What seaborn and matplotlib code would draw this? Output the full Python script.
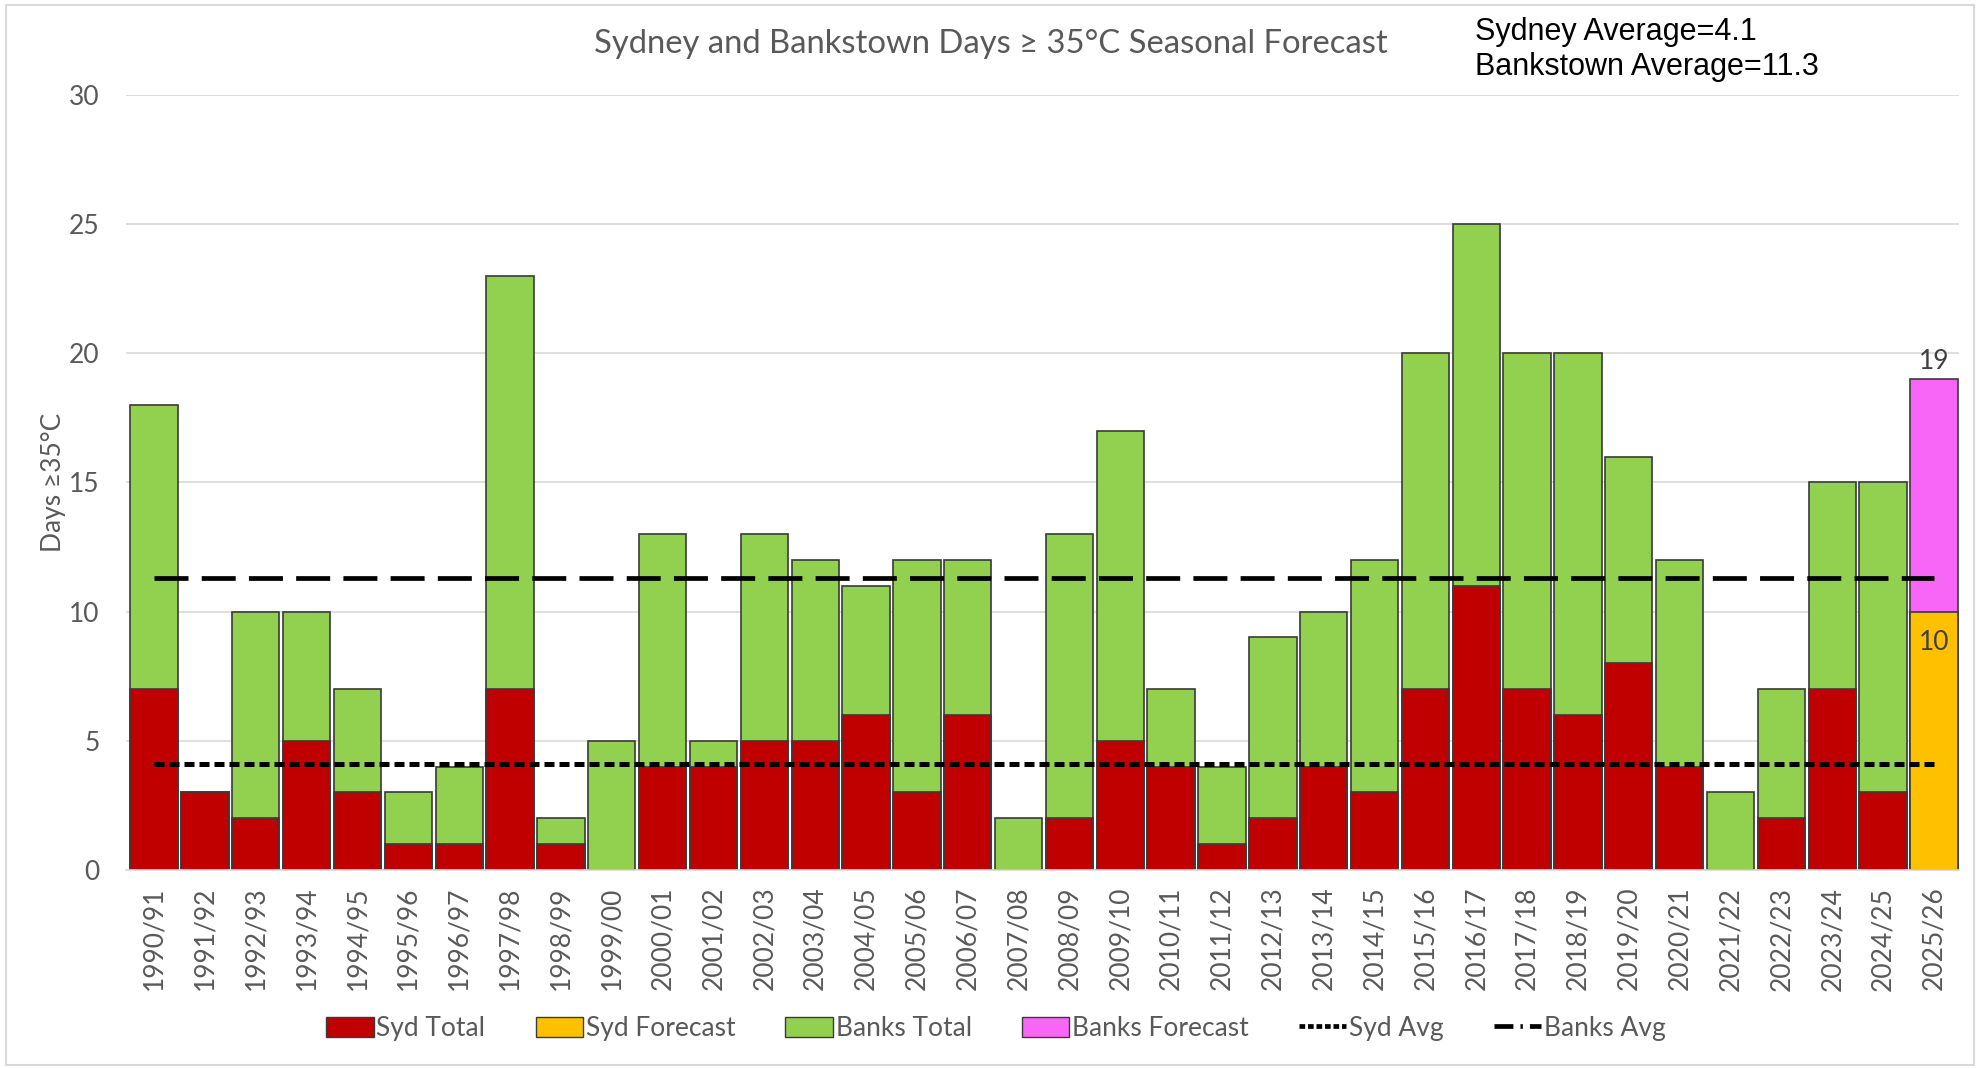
import numpy as np
import pandas as pd
import matplotlib
matplotlib.use("Agg")
import matplotlib.pyplot as plt
from matplotlib.patches import Patch, Rectangle
from matplotlib.lines import Line2D
import seaborn as sns

# Seasons and days >= 35°C
seasons = ["1990/91", "1991/92", "1992/93", "1993/94", "1994/95", "1995/96",
           "1996/97", "1997/98", "1998/99", "1999/00", "2000/01", "2001/02",
           "2002/03", "2003/04", "2004/05", "2005/06", "2006/07", "2007/08",
           "2008/09", "2009/10", "2010/11", "2011/12", "2012/13", "2013/14",
           "2014/15", "2015/16", "2016/17", "2017/18", "2018/19", "2019/20",
           "2020/21", "2021/22", "2022/23", "2023/24", "2024/25", "2025/26"]
syd_total = [7, 3, 2, 5, 3, 1, 1, 7, 1, 0, 4, 4, 5, 5, 6, 3, 6, 0, 2, 5, 4, 1,
             2, 4, 3, 7, 11, 7, 6, 8, 4, 0, 2, 7, 3, np.nan]
banks_total = [18, 3, 10, 10, 7, 3, 4, 23, 2, 5, 13, 5, 13, 12, 11, 12, 12, 2,
               13, 17, 7, 4, 9, 10, 12, 20, 25, 20, 20, 16, 12, 3, 7, 15, 15,
               np.nan]
syd_forecast = [np.nan] * 35 + [10]
banks_forecast = [np.nan] * 35 + [19]
syd_avg = 4.1
banks_avg = 11.3

df = pd.DataFrame({"season": seasons, "syd_total": syd_total,
                   "banks_total": banks_total, "syd_forecast": syd_forecast,
                   "banks_forecast": banks_forecast})

sns.set_style("white")
plt.rcParams["font.family"] = ["Lato", "DejaVu Sans"]

GREY_TXT = "#595959"
EDGE = "#3a3a3a"

fig = plt.figure(figsize=(19.82, 10.68), dpi=100)
ax = fig.add_axes([0.0636, 0.1854, 0.925, 0.7257])

bar_kw = dict(order=seasons, width=0.93, saturation=1, errorbar=None,
              edgecolor=EDGE, linewidth=1.2, ax=ax)
sns.barplot(data=df, x="season", y="banks_total", color="#92D050", **bar_kw)
sns.barplot(data=df, x="season", y="banks_forecast", color="#F766F7", **bar_kw)
sns.barplot(data=df, x="season", y="syd_total", color="#C00000", **bar_kw)
sns.barplot(data=df, x="season", y="syd_forecast", color="#FFC000", **bar_kw)

# Average lines spanning first to last season
n = len(seasons)
ax.plot([0, n - 1], [syd_avg, syd_avg], color="black", lw=3.6,
        dashes=(2.0, 1.0), zorder=5)
ax.plot([0, n - 1], [banks_avg, banks_avg], color="black", lw=3.4,
        dashes=(7.2, 2.8), zorder=5)

# Forecast value labels
ax.bar_label(ax.containers[1], fmt="%g", padding=4, fontsize=19,
             color="#404040")
ax.bar_label(ax.containers[3], fmt="%g", padding=-31, fontsize=19,
             color="#404040")

ax.set_ylim(0, 30)
ax.set_xlim(-0.55, n - 0.5)
ax.set_yticks(range(0, 31, 5))
ax.yaxis.grid(True, color="#D9D9D9", lw=1.2)
ax.set_axisbelow(True)
for s in ["left", "top", "right"]:
    ax.spines[s].set_visible(False)
ax.spines["bottom"].set_color("#D9D9D9")
ax.spines["bottom"].set_linewidth(1.2)
ax.tick_params(axis="both", length=0, labelsize=19, colors=GREY_TXT)
ax.tick_params(axis="x", rotation=90, pad=12)
ax.tick_params(axis="y", pad=19)
ax.set_xlabel("")
ax.set_ylabel("Days ≥35°C", fontsize=19, color=GREY_TXT, labelpad=2)

fig.text(0.5, 0.9586, "Sydney and Bankstown Days ≥ 35°C Seasonal Forecast",
         ha="center", va="center", fontsize=23.6, color=GREY_TXT)
fig.text(0.744, 0.9535, "Sydney Average=4.1\nBankstown Average=11.3",
         ha="left", va="center", fontsize=22, color="black",
         family=["Liberation Sans", "DejaVu Sans"], linespacing=1.2)

handles = [
    Patch(facecolor="#C00000", edgecolor=EDGE, label="Syd Total"),
    Patch(facecolor="#FFC000", edgecolor=EDGE, label="Syd Forecast"),
    Patch(facecolor="#92D050", edgecolor=EDGE, label="Banks Total"),
    Patch(facecolor="#F766F7", edgecolor=EDGE, label="Banks Forecast"),
    Line2D([0], [0], color="black", lw=3.4, dashes=(1.2, 0.6), label="Syd Avg"),
    Line2D([0], [0], color="black", lw=3.4, dashes=(4, 1.5, 0.5, 1.5),
           label="Banks Avg"),
]
leg = fig.legend(handles=handles, loc="center", bbox_to_anchor=(0.5025, 0.037),
                 ncol=6, frameon=False, fontsize=19, handlelength=1.8,
                 handleheight=0.8, handletextpad=0.1, columnspacing=1.9)
for t in leg.get_texts():
    t.set_color(GREY_TXT)

# Chart-area border
fig.patches.append(Rectangle((0.003, 0.003), 0.993, 0.992,
                             transform=fig.transFigure, fill=False,
                             edgecolor="#D9D9D9", lw=1.5))

fig.savefig("out.png", dpi=100)
